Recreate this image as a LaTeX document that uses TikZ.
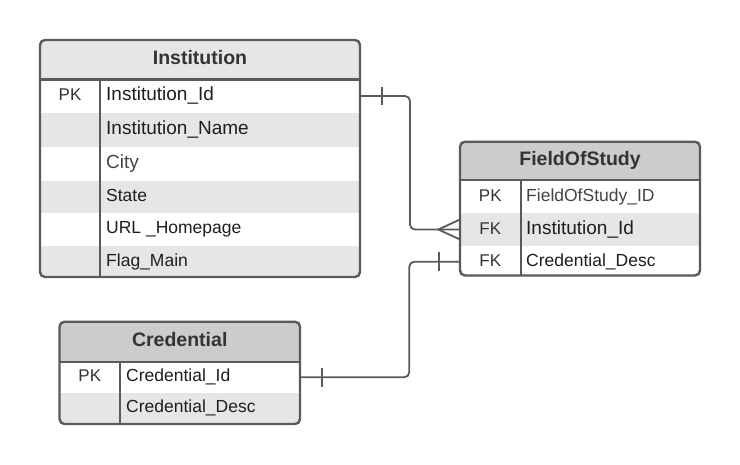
\documentclass[tikz,border=0pt]{standalone}
\usepackage{fontspec}
\setmainfont{Liberation Sans}
\definecolor{bordc}{HTML}{5A5A5A}
\definecolor{stripe}{HTML}{E6E6E6}
\definecolor{hdrlight}{HTML}{E6E6E6}
\definecolor{hdrdark}{HTML}{CCCCCC}
\definecolor{txt}{HTML}{1E1E1E}
\definecolor{txtlight}{HTML}{444444}
\definecolor{hdrtxt}{HTML}{333333}
\tikzset{
  rowbox/.style={inner sep=0pt, outer sep=0pt, draw=none},
  outline/.style={draw=bordc, line width=2.4pt, rounded corners=5pt},
  sep/.style={draw=bordc, line width=2.4pt},
  conn/.style={draw=bordc, line width=1.8pt, rounded corners=5pt},
  tick/.style={draw=bordc, line width=1.8pt},
  hdr/.style={inner sep=0pt, anchor=mid, yshift=-2pt, text=hdrtxt, font=\fontsize{19.5}{22}\selectfont\bfseries},
  keyt/.style={inner sep=0pt, anchor=mid, yshift=-2pt, text=hdrtxt, font=\fontsize{17}{20}\selectfont},
  fldA/.style={inner sep=0pt, anchor=mid west, yshift=-2pt, text=txt, font=\fontsize{19}{22}\selectfont},
  fldB/.style={inner sep=0pt, anchor=mid west, yshift=-2pt, text=txt, font=\fontsize{17.5}{20}\selectfont},
}
\begin{document}
\begin{tikzpicture}[x=1pt,y=-1pt]
\useasboundingbox (0,0) rectangle (740,464);
\fill[white] (0,0) rectangle (740,464);

% ---------------- Institution ----------------
\begin{scope}
\clip[rounded corners=5pt] (40,40) rectangle (360,277);
\node[rowbox, fill=hdrlight, minimum width=320pt, minimum height=39.3pt] (insth) at (200,59.65) {};
\node[rowbox, fill=white,  minimum width=320pt, minimum height=33.4pt] (inst1) at (200,96) {};
\node[rowbox, fill=stripe, minimum width=320pt, minimum height=34pt] (inst2) at (200,129.7) {};
\node[rowbox, fill=white,  minimum width=320pt, minimum height=34pt] (inst3) at (200,163.7) {};
\node[rowbox, fill=stripe, minimum width=320pt, minimum height=32pt] (inst4) at (200,196.7) {};
\node[rowbox, fill=white,  minimum width=320pt, minimum height=33.3pt] (inst5) at (200,229.35) {};
\node[rowbox, fill=stripe, minimum width=320pt, minimum height=31pt] (inst6) at (200,261.5) {};
\end{scope}
\draw[sep] (40,79.3) -- (360,79.3);
\draw[sep] (100,79.3) -- (100,277);
\draw[outline] (40,40) rectangle (360,277);
\node[hdr] (insthT) at (insth.center) {Institution};
\node[keyt] (inst1K) at (70,96) {PK};
\node[fldA] (inst1T) at (106,96) {Institution\_Id};
\node[fldA] (inst2T) at (106,129.7) {Institution\_Name};
\node[fldA, text=txtlight] (inst3T) at (106,163.7) {City};
\node[fldB] (inst4T) at (106,196.7) {State};
\node[fldB] (inst5T) at (106,229.35) {URL \_Homepage};
\node[fldB] (inst6T) at (106,261.5) {Flag\_Main};

% ---------------- FieldOfStudy ----------------
\begin{scope}
\clip[rounded corners=5pt] (460,141.7) rectangle (700,275.5);
\node[rowbox, fill=hdrdark, minimum width=240pt, minimum height=38.3pt] (fosh) at (580,160.85) {};
\node[rowbox, fill=white,  minimum width=240pt, minimum height=33.3pt] (fos1) at (580,196.65) {};
\node[rowbox, fill=stripe, minimum width=240pt, minimum height=32.4pt] (fos2) at (580,229.5) {};
\node[rowbox, fill=white,  minimum width=240pt, minimum height=30pt] (fos3) at (580,261.7) {};
\end{scope}
\draw[sep] (460,180) -- (700,180);
\draw[sep] (520.7,180) -- (520.7,275.5);
\draw[outline] (460,141.7) rectangle (700,275.5);
\node[hdr] (foshT) at (fosh.center) {FieldOfStudy};
\node[keyt] (fos1K) at (490.3,196.65) {PK};
\node[keyt] (fos2K) at (490.3,229.5) {FK};
\node[keyt] (fos3K) at (490.3,261.7) {FK};
\node[fldB, text=txtlight] (fos1T) at (526,196.65) {FieldOfStudy\_ID};
\node[fldA] (fos2T) at (526,229.5) {Institution\_Id};
\node[fldB] (fos3T) at (526,261.7) {Credential\_Desc};

% ---------------- Credential ----------------
\begin{scope}
\clip[rounded corners=5pt] (59.5,321.7) rectangle (300,424);
\node[rowbox, fill=hdrdark, minimum width=240.5pt, minimum height=40pt] (credh) at (179.75,341.7) {};
\node[rowbox, fill=white,  minimum width=240.5pt, minimum height=31pt] (cred1) at (179.75,377.2) {};
\node[rowbox, fill=stripe, minimum width=240.5pt, minimum height=31.3pt] (cred2) at (179.75,408.35) {};
\end{scope}
\draw[sep] (59.5,361.7) -- (300,361.7);
\draw[sep] (120,361.7) -- (120,424);
\draw[outline] (59.5,321.7) rectangle (300,424);
\node[hdr] (credhT) at (credh.center) {Credential};
\node[keyt] (cred1K) at (89.75,377.2) {PK};
\node[fldB] (cred1T) at (126,377.2) {Credential\_Id};
\node[fldB] (cred2T) at (126,408.35) {Credential\_Desc};

% ---------------- Connectors ----------------
\coordinate (j1) at (410,96);
\coordinate (j2) at (409.3,377.2);
% Institution -> FieldOfStudy (one to many)
\draw[conn] (inst1.east) -- (j1) |- (fos2.west);
\draw[tick] ([xshift=22.3pt]inst1.east) ++(0,-9.3) -- ++(0,18.6);
\draw[tick] ([yshift=-10pt]fos2.west) -- ([xshift=-21.7pt]fos2.west) -- ([yshift=10pt]fos2.west);
% Credential -> FieldOfStudy (one to one)
\draw[conn] (cred1.east) -- (j2) |- (fos3.west);
\draw[tick] ([xshift=21.7pt]cred1.east) ++(0,-9.5) -- ++(0,19);
\draw[tick] ([xshift=-20.7pt]fos3.west) ++(0,-9.5) -- ++(0,19);
\end{tikzpicture}
\end{document}
